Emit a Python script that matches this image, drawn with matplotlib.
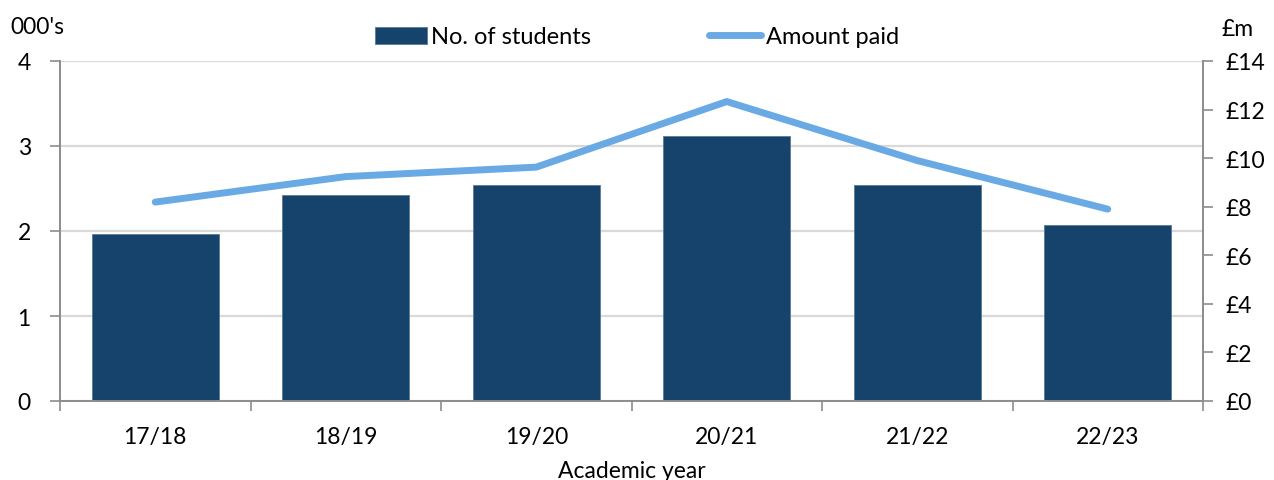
import matplotlib.pyplot as plt
import numpy as np

plt.rcParams['font.family'] = ['Lato', 'DejaVu Sans']

years = ["17/18", "18/19", "19/20", "20/21", "21/22", "22/23"]
students = [1.96, 2.42, 2.54, 3.12, 2.54, 2.07]      # thousands
amount_paid = [8.19, 9.24, 9.63, 12.33, 9.90, 7.90]  # £m

bar_color = "#15436b"
line_color = "#6aaae4"
axis_color = "#8c8c8c"
fs = 16.5

fig = plt.figure(figsize=(12.74, 4.81), dpi=100)
ax = fig.add_axes([60 / 1274, 1 - 402 / 481, (1203 - 60) / 1274, (402 - 62) / 481])
ax2 = ax.twinx()

x = np.arange(len(years))
bars = ax.bar(x, students, width=0.667, color=bar_color, edgecolor="#5a7a98",
              linewidth=0.6, label="No. of students", zorder=2)
line, = ax2.plot(x, amount_paid, color=line_color, linewidth=5,
                 solid_capstyle="round", solid_joinstyle="round",
                 label="Amount paid", zorder=3)

ax.set_xlim(-0.5, len(years) - 0.5)
ax.set_ylim(0, 4)
ax.set_yticks([0, 1, 2, 3, 4])
ax2.set_ylim(0, 14)
ax2.set_yticks(range(0, 15, 2))
ax2.set_yticklabels([f"£{v}" for v in range(0, 15, 2)])

# category labels in the middle, tick marks on the boundaries
ax.set_xticks(x)
ax.set_xticklabels(years)
ax.set_xticks(np.arange(-0.5, len(years)), minor=True)
ax.tick_params(axis="x", which="major", length=0, pad=18, labelsize=fs)
ax.tick_params(axis="x", which="minor", length=7, color=axis_color, width=1.2)
ax.tick_params(axis="y", length=7, color=axis_color, width=1.2, labelsize=fs, pad=14)
ax2.tick_params(axis="y", length=7, color=axis_color, width=1.2, labelsize=fs, pad=9)

ax.yaxis.grid(True, color="#d9d9d9", linewidth=1.6, zorder=0)
ax.set_axisbelow(True)

for a in (ax, ax2):
    a.spines["top"].set_visible(False)
    for s in ("left", "right", "bottom"):
        a.spines[s].set_color(axis_color)
        a.spines[s].set_linewidth(1.2)

ax.set_xlabel("Academic year", fontsize=fs, labelpad=9)
fig.text(10 / 1274, 1 - 28 / 481, "000's", fontsize=fs, va="center", ha="left")
fig.text(1222 / 1274, 1 - 30 / 481, "£m", fontsize=fs, va="center", ha="left")

fig.legend(handles=[bars, line], loc="center", bbox_to_anchor=(0.5, 1 - 38 / 481),
           ncol=2, frameon=False, fontsize=17, columnspacing=5.0,
           handlelength=2.2, handletextpad=0.2)

fig.savefig("out.png", dpi=100)
